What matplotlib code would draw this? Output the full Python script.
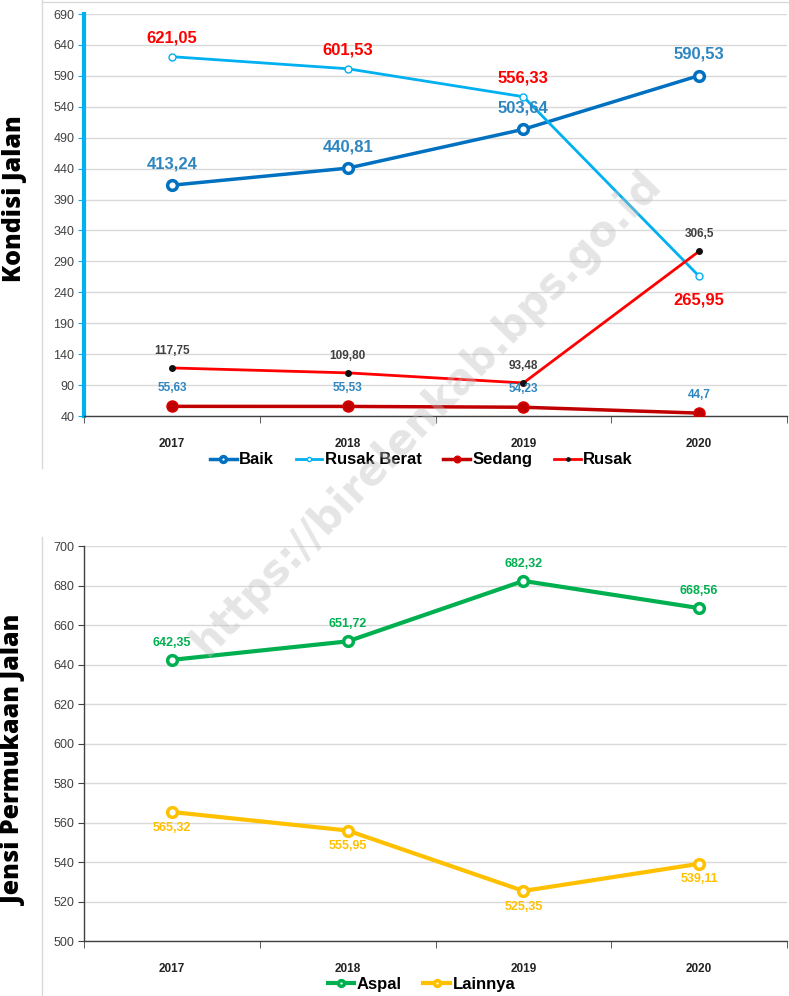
import matplotlib
matplotlib.use("Agg")
import matplotlib.pyplot as plt
from matplotlib.lines import Line2D
import numpy as np

plt.rcParams['font.family'] = ['Liberation Sans Narrow', 'Liberation Sans', 'DejaVu Sans']

years = ['2017', '2018', '2019', '2020']

# Kondisi Jalan
baik = [413.24, 440.81, 503.64, 590.53]
rusak_berat = [621.05, 601.53, 556.33, 265.95]
sedang = [55.63, 55.53, 54.23, 44.7]
rusak = [117.75, 109.80, 93.48, 306.5]
baik_lbl = ['413,24', '440,81', '503,64', '590,53']
rusak_berat_lbl = ['621,05', '601,53', '556,33', '265,95']
sedang_lbl = ['55,63', '55,53', '54,23', '44,7']
rusak_lbl = ['117,75', '109,80', '93,48', '306,5']

# Jensi Permukaan Jalan
aspal = [642.35, 651.72, 682.32, 668.56]
lainnya = [565.32, 555.95, 525.35, 539.11]
aspal_lbl = ['642,35', '651,72', '682,32', '668,56']
lainnya_lbl = ['565,32', '555,95', '525,35', '539,11']

fig = plt.figure(figsize=(7.89, 9.96), dpi=100)
x = np.arange(len(years))


def style_axes(ax, ymin, ymax, step, left_color, left_width):
    ax.set_xlim(-0.5, 3.5)
    ax.set_ylim(ymin, ymax)
    ax.set_yticks(np.arange(ymin, ymax + 1, step))
    ax.grid(axis='y', color='#d9d9d9', linewidth=1)
    ax.set_axisbelow(True)
    for s in ['top', 'right']:
        ax.spines[s].set_visible(False)
    ax.spines['left'].set_color(left_color)
    ax.spines['left'].set_linewidth(left_width)
    ax.spines['bottom'].set_color('#404040')
    ax.spines['bottom'].set_linewidth(1)
    ax.set_xticks(x)
    ax.set_xticklabels(years, fontweight='bold', fontsize=8.5)
    ax.set_xticks(np.arange(-0.5, 3.6, 1), minor=True)
    ax.tick_params(axis='x', which='major', length=0, pad=16, colors='#222222')
    ax.tick_params(axis='x', which='minor', length=5, color='#404040')
    ax.tick_params(axis='y', length=4, color=left_color, labelsize=9, labelcolor='#404040', pad=3)


legend_kw = dict(loc='center', ncol=4, frameon=False, prop={'weight': 'bold', 'size': 12},
                 handlelength=1.6, handletextpad=0.15, columnspacing=1.3, markerscale=0.6)

# --- top chart ---
ax1 = fig.add_axes([0.1065, 0.5823, 0.891, 0.4036])
style_axes(ax1, 40, 690, 50, '#00B0F0', 3)

ax1.plot(x, baik, color='#0070C0', lw=2.5, marker='o', ms=7, mfc='white', mew=2.5, label='Baik', zorder=3)
ax1.plot(x, rusak_berat, color='#00B0F0', lw=2, marker='o', ms=5, mfc='white', mew=1, label='Rusak Berat', zorder=3)
ax1.plot(x, sedang, color='#C00000', lw=2.5, marker='o', ms=8, mfc='#C00000', mec='#E00000', mew=1, label='Sedang', zorder=3)
ax1.plot(x, rusak, color='#FF0000', lw=2, marker='o', ms=4, mfc='#111111', mec='#111111', label='Rusak', zorder=3)

for i in x:
    ax1.annotate(baik_lbl[i], (i, baik[i]), xytext=(0, 10), textcoords='offset points',
                 ha='center', va='bottom', color='#2E86C1', fontweight='bold', fontsize=12)
    off = (0, -12) if i == 3 else (0, 8)
    ax1.annotate(rusak_berat_lbl[i], (i, rusak_berat[i]), xytext=off, textcoords='offset points',
                 ha='center', va='top' if i == 3 else 'bottom', color='#FF0000', fontweight='bold', fontsize=12)
    ax1.annotate(sedang_lbl[i], (i, sedang[i]), xytext=(0, 9), textcoords='offset points',
                 ha='center', va='bottom', color='#2E86C1', fontweight='bold', fontsize=8.5)
    ax1.annotate(rusak_lbl[i], (i, rusak[i]), xytext=(0, 8), textcoords='offset points',
                 ha='center', va='bottom', color='#404040', fontweight='bold', fontsize=8.5)

ax1.set_ylabel('Kondisi Jalan', fontsize=18, fontweight='heavy', family=['Open Sans', 'DejaVu Sans'])
ax1.yaxis.set_label_coords(-0.081, 0.54)
ax1.legend(bbox_to_anchor=(0.48, -0.109), **legend_kw)

# --- bottom chart ---
ax2 = fig.add_axes([0.1065, 0.0552, 0.891, 0.3966])
style_axes(ax2, 500, 700, 20, '#404040', 1)

ax2.plot(x, aspal, color='#00B050', lw=3, marker='o', ms=7, mfc='white', mew=2.5, label='Aspal', zorder=3)
ax2.plot(x, lainnya, color='#FFC000', lw=3, marker='o', ms=7, mfc='white', mew=2.5, label='Lainnya', zorder=3)

for i in x:
    ax2.annotate(aspal_lbl[i], (i, aspal[i]), xytext=(0, 8), textcoords='offset points',
                 ha='center', va='bottom', color='#00B050', fontweight='bold', fontsize=9)
    ax2.annotate(lainnya_lbl[i], (i, lainnya[i]), xytext=(0, -7), textcoords='offset points',
                 ha='center', va='top', color='#FFC000', fontweight='bold', fontsize=9)

ax2.set_ylabel('Jensi Permukaan Jalan', fontsize=18, fontweight='heavy', family=['Open Sans', 'DejaVu Sans'])
ax2.yaxis.set_label_coords(-0.081, 0.457)
ax2.legend(bbox_to_anchor=(0.48, -0.109), **legend_kw)

# frame lines
fig.add_artist(Line2D([42 / 789, 42 / 789], [1 - 468 / 996, 1.0], color='#d9d9d9', lw=1))
fig.add_artist(Line2D([42 / 789, 1.0], [1 - 2 / 996, 1 - 2 / 996], color='#d9d9d9', lw=1))
fig.add_artist(Line2D([42 / 789, 42 / 789], [0, 1 - 537 / 996], color='#d9d9d9', lw=1))

# watermark
fig.text(0.54, 0.585, 'https://birelenkab.bps.go.id', rotation=46, ha='center', va='center',
         fontsize=30, fontweight='bold', color='#bfbfbf', alpha=0.4,
         family=['DejaVu Sans'], zorder=10)

fig.savefig('out.png', dpi=100)
